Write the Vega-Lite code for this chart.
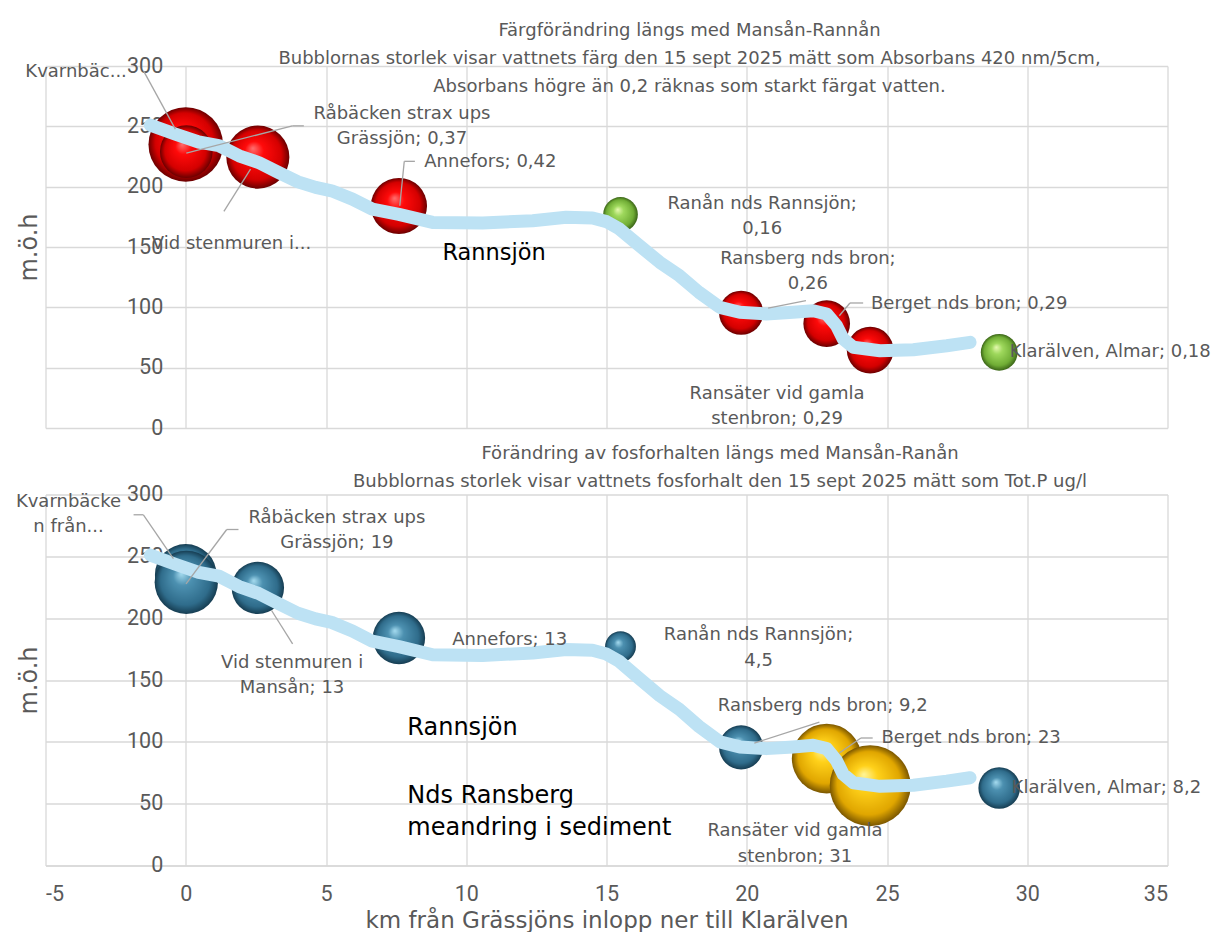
{
  "$schema": "https://vega.github.io/schema/vega-lite/v6.json",
  "background": "white",
  "padding": {"left": 15.5, "top": 22, "right": 0, "bottom": 0},
  "bounds": "flush",
  "spacing": 66.5,
  "resolve": {"scale": {"x": "independent", "y": "independent", "size": "independent"}},
  "config": {
    "view": {"stroke": null},
    "font": "DejaVu Sans",
    "axis": {"gridColor": "#D9D9D9", "gridWidth": 1.3, "labelColor": "#595959", "titleColor": "#595959", "labelFont": "Roboto", "titleFont": "DejaVu Sans", "domain": false, "ticks": false, "titleFontWeight": "normal", "labelFontSize": 21.5, "titleFontSize": 24},
    "title": {"font": "DejaVu Sans", "fontWeight": "normal", "color": "#595959", "fontSize": 18, "lineHeight": 28}
  },
  "datasets": {
    "topPts": [
      {"n": "Kvarnbäcken", "x": 0, "y": 235, "v": 0.74, "c": "red"},
      {"n": "Råbäcken strax ups Grässjön", "x": 0.02, "y": 229, "v": 0.37, "c": "red"},
      {"n": "Vid stenmuren i Mansån", "x": 2.57, "y": 224.5, "v": 0.53, "c": "red"},
      {"n": "Annefors", "x": 7.6, "y": 184, "v": 0.42, "c": "red"},
      {"n": "Ranån nds Rannsjön", "x": 15.5, "y": 177, "v": 0.16, "c": "green"},
      {"n": "Ransberg nds bron", "x": 19.8, "y": 95.5, "v": 0.26, "c": "red"},
      {"n": "Berget nds bron", "x": 22.85, "y": 86.5, "v": 0.29, "c": "red"},
      {"n": "Ransäter vid gamla stenbron", "x": 24.4, "y": 64.5, "v": 0.29, "c": "red"},
      {"n": "Klarälven, Almar", "x": 29.0, "y": 62.7, "v": 0.18, "c": "green"}
    ],
    "botPts": [
      {"n": "Kvarnbäcken", "x": 0, "y": 235, "v": 18, "c": "blue"},
      {"n": "Råbäcken strax ups Grässjön", "x": 0.02, "y": 229, "v": 19, "c": "blue"},
      {"n": "Vid stenmuren i Mansån", "x": 2.57, "y": 224.5, "v": 13, "c": "blue"},
      {"n": "Annefors", "x": 7.6, "y": 184, "v": 13, "c": "blue"},
      {"n": "Ranån nds Rannsjön", "x": 15.5, "y": 177, "v": 4.5, "c": "blue"},
      {"n": "Ransberg nds bron", "x": 19.8, "y": 95.5, "v": 9.2, "c": "blue"},
      {"n": "Berget nds bron", "x": 22.85, "y": 86.5, "v": 23, "c": "gold"},
      {"n": "Ransäter vid gamla stenbron", "x": 24.4, "y": 64.5, "v": 31, "c": "gold"},
      {"n": "Klarälven, Almar", "x": 29.0, "y": 62.7, "v": 8.2, "c": "blue"}
    ],
    "river": [
      {"x": -1.26, "y": 251}, {"x": -0.37, "y": 243.6}, {"x": 0.46, "y": 237}, {"x": 1.18, "y": 234},
      {"x": 1.9, "y": 225.6}, {"x": 2.6, "y": 220}, {"x": 3.3, "y": 211.8}, {"x": 4.0, "y": 204},
      {"x": 4.63, "y": 199.4}, {"x": 5.2, "y": 196.6}, {"x": 5.94, "y": 189.7}, {"x": 6.65, "y": 181.4},
      {"x": 7.6, "y": 177}, {"x": 8.8, "y": 170.4}, {"x": 10.58, "y": 169.9}, {"x": 12.37, "y": 171.8},
      {"x": 13.56, "y": 174.6}, {"x": 14.5, "y": 174}, {"x": 15.0, "y": 171}, {"x": 15.46, "y": 165},
      {"x": 16.18, "y": 151}, {"x": 16.9, "y": 137.3}, {"x": 17.6, "y": 126.2}, {"x": 18.3, "y": 112.4},
      {"x": 19.04, "y": 100}, {"x": 19.75, "y": 95.9}, {"x": 20.7, "y": 94.5}, {"x": 21.65, "y": 95.9},
      {"x": 22.37, "y": 97.2}, {"x": 22.85, "y": 94.5}, {"x": 23.2, "y": 84.8}, {"x": 23.44, "y": 73.7},
      {"x": 23.8, "y": 66.9}, {"x": 24.75, "y": 64}, {"x": 25.94, "y": 64.9}, {"x": 27.13, "y": 68.2},
      {"x": 27.96, "y": 71}
    ],
    "topLab": [
      {"t": "Kvarnbäc...", "x": -3.91, "y": 295},
      {"t": "Råbäcken strax ups\nGrässjön; 0,37", "x": 7.71, "y": 260.2},
      {"t": "Annefors; 0,42", "x": 10.86, "y": 220.4},
      {"t": "Vid stenmuren i...", "x": 1.63, "y": 152.4},
      {"t": "Ranån nds Rannsjön;\n0,16", "x": 20.55, "y": 185.6},
      {"t": "Ransberg nds bron;\n0,26", "x": 22.18, "y": 140},
      {"t": "Berget nds bron; 0,29", "x": 27.93, "y": 102.7},
      {"t": "Klarälven, Almar; 0,18", "x": 32.96, "y": 62.7},
      {"t": "Ransäter vid gamla\nstenbron; 0,29", "x": 21.08, "y": 28.2}
    ],
    "botLab": [
      {"t": "Kvarnbäcke\nn från...", "x": -4.18, "y": 294.2},
      {"t": "Råbäcken strax ups\nGrässjön; 19", "x": 5.39, "y": 281.2},
      {"t": "Vid stenmuren i\nMansån; 13", "x": 3.79, "y": 163.8},
      {"t": "Annefors; 13", "x": 11.55, "y": 182.7},
      {"t": "Ranån nds Rannsjön;\n4,5", "x": 20.42, "y": 186},
      {"t": "Ransberg nds bron; 9,2", "x": 22.71, "y": 128.7},
      {"t": "Berget nds bron; 23", "x": 28.0, "y": 103},
      {"t": "Klarälven, Almar; 8,2", "x": 32.82, "y": 62.6},
      {"t": "Ransäter vid gamla\nstenbron; 31", "x": 21.72, "y": 27.5}
    ],
    "topLead": [
      {"x": -1.5, "y": 295.8, "x2": -0.37, "y2": 247.7},
      {"x": 4.21, "y": 250.4, "x2": 3.8, "y2": 250.4},
      {"x": 3.8, "y": 250.4, "x2": 0.02, "y2": 227.8},
      {"x": 1.36, "y": 179.5, "x2": 2.31, "y2": 214.5},
      {"x": 8.17, "y": 221, "x2": 7.79, "y2": 221},
      {"x": 7.79, "y": 221, "x2": 7.63, "y2": 184.2},
      {"x": 22.11, "y": 105.5, "x2": 20.76, "y2": 99.4},
      {"x": 24.15, "y": 103.6, "x2": 23.68, "y2": 103.6},
      {"x": 23.68, "y": 103.6, "x2": 23.3, "y2": 93}
    ],
    "botLead": [
      {"x": -1.86, "y": 283.6, "x2": -1.51, "y2": 283.6},
      {"x": -1.51, "y": 283.6, "x2": -0.44, "y2": 248.2},
      {"x": 1.88, "y": 271.7, "x2": 1.46, "y2": 271.7},
      {"x": 1.46, "y": 271.7, "x2": 0.01, "y2": 227.8},
      {"x": 3.81, "y": 179.2, "x2": 3.06, "y2": 206.2},
      {"x": 22.59, "y": 116, "x2": 20.27, "y2": 99},
      {"x": 24.49, "y": 103.1, "x2": 24.07, "y2": 103.1},
      {"x": 24.07, "y": 103.1, "x2": 23.3, "y2": 91}
    ],
    "topAnn": [
      {"t": "Rannsjön", "x": 9.15, "y": 145}
    ],
    "botAnn": [
      {"t": "Rannsjön", "x": 7.9, "y": 111.2},
      {"t": "Nds Ransberg\nmeandring i sediment", "x": 7.9, "y": 55.9}
    ]
  },
  "vconcat": [
    {
      "width": 1122,
      "height": 362,
      "title": {
        "text": ["Färgförändring längs med Mansån-Rannån", "Bubblornas storlek visar vattnets färg den 15 sept 2025 mätt som Absorbans 420 nm/5cm,", "Absorbans högre än 0,2 räknas som starkt färgat vatten."],
        "anchor": "middle", "dx": 83, "offset": -41
      },
      "layer": [
        {
          "data": {"name": "topPts"},
          "transform": [{"filter": "datum.c == 'red'"}],
          "mark": {"type": "point", "shape": "circle", "filled": true, "opacity": 1, "strokeWidth": 0,
            "fill": {"gradient": "radial", "x1": 0.42, "y1": 0.36, "r1": 0, "x2": 0.5, "y2": 0.5, "r2": 0.5,
              "stops": [{"offset": 0, "color": "#ff7070"}, {"offset": 0.3, "color": "#ff0a0a"}, {"offset": 0.78, "color": "#d40000"}, {"offset": 1, "color": "#6a0000"}]}},
          "encoding": {
            "x": {"field": "x", "type": "quantitative", "scale": {"domain": [-5, 35], "nice": false, "zero": false},
              "axis": {"values": [-5, 0, 5, 10, 15, 20, 25, 30, 35], "labels": false, "title": null, "grid": true}},
            "y": {"field": "y", "type": "quantitative", "scale": {"domain": [0, 300], "nice": false},
              "axis": {"values": [0, 50, 100, 150, 200, 250, 300], "offset": -140.25, "labelPadding": 23, "title": "m.ö.h", "titleX": -144, "grid": true}},
            "size": {"field": "v", "type": "quantitative", "scale": {"domain": [0, 1], "range": [0, 7512], "zero": true}, "legend": null}
          }
        },
        {
          "data": {"name": "topPts"},
          "transform": [{"filter": "datum.c == 'green'"}],
          "mark": {"type": "point", "shape": "circle", "filled": true, "opacity": 1, "strokeWidth": 0,
            "fill": {"gradient": "radial", "x1": 0.42, "y1": 0.36, "r1": 0, "x2": 0.5, "y2": 0.5, "r2": 0.5,
              "stops": [{"offset": 0, "color": "#e6f9b0"}, {"offset": 0.3, "color": "#9ed85c"}, {"offset": 0.78, "color": "#70ad35"}, {"offset": 1, "color": "#3a6417"}]}},
          "encoding": {
            "x": {"field": "x", "type": "quantitative"},
            "y": {"field": "y", "type": "quantitative"},
            "size": {"field": "v", "type": "quantitative", "legend": null}
          }
        },
        {
          "data": {"name": "river"},
          "mark": {"type": "line", "color": "#BDE2F4", "strokeWidth": 13, "strokeCap": "round", "strokeJoin": "round"},
          "encoding": {"x": {"field": "x", "type": "quantitative"}, "y": {"field": "y", "type": "quantitative"}}
        },
        {
          "data": {"name": "topLead"},
          "mark": {"type": "rule", "color": "#A6A6A6", "strokeWidth": 1.3},
          "encoding": {"x": {"field": "x", "type": "quantitative"}, "y": {"field": "y", "type": "quantitative"}, "x2": {"field": "x2"}, "y2": {"field": "y2"}}
        },
        {
          "data": {"name": "topLab"},
          "mark": {"type": "text", "fontSize": 18, "color": "#595959", "lineBreak": "\n", "lineHeight": 25, "align": "center", "baseline": "middle"},
          "encoding": {"x": {"field": "x", "type": "quantitative"}, "y": {"field": "y", "type": "quantitative"}, "text": {"field": "t"}}
        },
        {
          "data": {"name": "topAnn"},
          "mark": {"type": "text", "fontSize": 22.5, "color": "#000000", "lineBreak": "\n", "lineHeight": 31.5, "align": "left", "baseline": "middle"},
          "encoding": {"x": {"field": "x", "type": "quantitative"}, "y": {"field": "y", "type": "quantitative"}, "text": {"field": "t"}}
        }
      ]
    },
    {
      "width": 1122,
      "height": 371,
      "title": {
        "text": ["Förändring av fosforhalten längs med Mansån-Ranån", "Bubblornas storlek visar vattnets fosforhalt den 15 sept 2025 mätt som Tot.P ug/l"],
        "anchor": "middle", "dx": 113.5, "offset": -7
      },
      "layer": [
        {
          "data": {"name": "botPts"},
          "transform": [{"filter": "datum.c == 'blue'"}],
          "mark": {"type": "point", "shape": "circle", "filled": true, "opacity": 1, "strokeWidth": 0,
            "fill": {"gradient": "radial", "x1": 0.42, "y1": 0.36, "r1": 0, "x2": 0.5, "y2": 0.5, "r2": 0.5,
              "stops": [{"offset": 0, "color": "#a6dcf0"}, {"offset": 0.3, "color": "#4c90b0"}, {"offset": 0.78, "color": "#2f6c8b"}, {"offset": 1, "color": "#163d52"}]}},
          "encoding": {
            "x": {"field": "x", "type": "quantitative", "scale": {"domain": [-5, 35], "nice": false, "zero": false},
              "axis": {"values": [-5, 0, 5, 10, 15, 20, 25, 30, 35], "labelExpr": "datum.value < 0 ? '-' + abs(datum.value) : datum.label", "grid": true, "domain": true, "domainColor": "#D9D9D9", "domainWidth": 1.3, "labelPadding": 18, "title": "km från Grässjöns inlopp ner till Klarälven", "titleFontSize": 23, "titlePadding": 4}},
            "y": {"field": "y", "type": "quantitative", "scale": {"domain": [0, 300], "nice": false},
              "axis": {"values": [0, 50, 100, 150, 200, 250, 300], "offset": -140.25, "labelPadding": 23, "title": "m.ö.h", "titleX": -144, "grid": true}},
            "size": {"field": "v", "type": "quantitative", "scale": {"domain": [0, 40], "range": [0, 8449], "zero": true}, "legend": null}
          }
        },
        {
          "data": {"name": "botPts"},
          "transform": [{"filter": "datum.c == 'gold'"}],
          "mark": {"type": "point", "shape": "circle", "filled": true, "opacity": 1, "strokeWidth": 0,
            "fill": {"gradient": "radial", "x1": 0.42, "y1": 0.36, "r1": 0, "x2": 0.5, "y2": 0.5, "r2": 0.5,
              "stops": [{"offset": 0, "color": "#fff59a"}, {"offset": 0.3, "color": "#ffd11a"}, {"offset": 0.78, "color": "#e0a600"}, {"offset": 1, "color": "#7a5600"}]}},
          "encoding": {
            "x": {"field": "x", "type": "quantitative"},
            "y": {"field": "y", "type": "quantitative"},
            "size": {"field": "v", "type": "quantitative", "legend": null}
          }
        },
        {
          "data": {"name": "river"},
          "mark": {"type": "line", "color": "#BDE2F4", "strokeWidth": 13, "strokeCap": "round", "strokeJoin": "round"},
          "encoding": {"x": {"field": "x", "type": "quantitative"}, "y": {"field": "y", "type": "quantitative"}}
        },
        {
          "data": {"name": "botLead"},
          "mark": {"type": "rule", "color": "#A6A6A6", "strokeWidth": 1.3},
          "encoding": {"x": {"field": "x", "type": "quantitative"}, "y": {"field": "y", "type": "quantitative"}, "x2": {"field": "x2"}, "y2": {"field": "y2"}}
        },
        {
          "data": {"name": "botLab"},
          "mark": {"type": "text", "fontSize": 18, "color": "#595959", "lineBreak": "\n", "lineHeight": 25.5, "align": "center", "baseline": "middle"},
          "encoding": {"x": {"field": "x", "type": "quantitative"}, "y": {"field": "y", "type": "quantitative"}, "text": {"field": "t"}}
        },
        {
          "data": {"name": "botAnn"},
          "mark": {"type": "text", "fontSize": 24, "color": "#000000", "lineBreak": "\n", "lineHeight": 31.7, "align": "left", "baseline": "middle"},
          "encoding": {"x": {"field": "x", "type": "quantitative"}, "y": {"field": "y", "type": "quantitative"}, "text": {"field": "t"}}
        }
      ]
    }
  ]
}
